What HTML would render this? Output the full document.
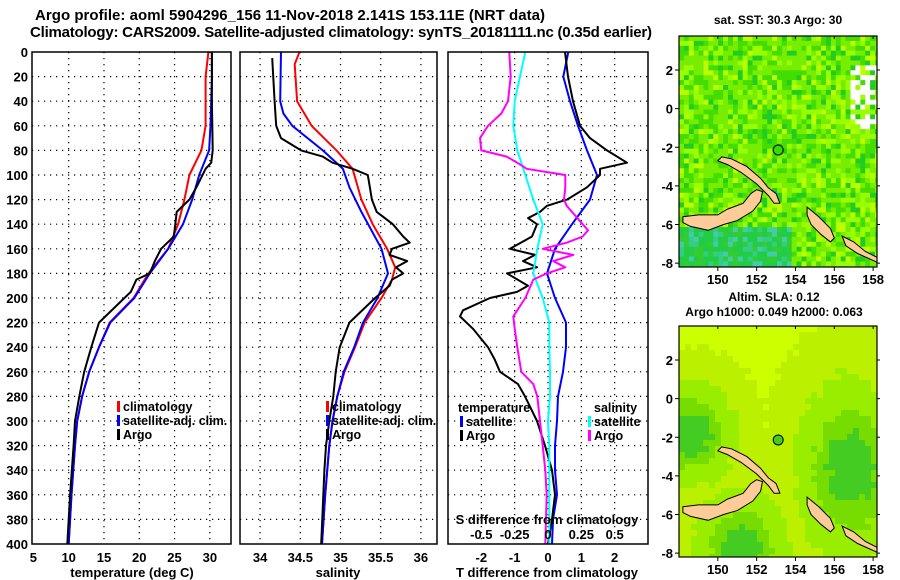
<!DOCTYPE html>
<html><head><meta charset="utf-8"><style>
html,body{margin:0;padding:0;background:#fff;}
svg{display:block;font-family:"Liberation Sans",Arial,sans-serif;font-weight:bold;}
</style></head><body>
<svg id="fig" width="900" height="580" viewBox="0 0 900 580" xmlns="http://www.w3.org/2000/svg">
<text x="290" y="20" font-size="15" text-anchor="middle" textLength="510">Argo profile: aoml 5904296_156 11-Nov-2018 2.141S 153.11E (NRT data)</text>
<text x="341" y="37" font-size="15" text-anchor="middle" textLength="622">Climatology: CARS2009. Satellite-adjusted climatology: synTS_20181111.nc (0.35d earlier)</text>
<text x="778" y="24" font-size="12" text-anchor="middle">sat. SST: 30.3 Argo: 30</text>
<text x="774" y="301" font-size="12" text-anchor="middle">Altim. SLA: 0.12</text>
<text x="774" y="316" font-size="12" text-anchor="middle">Argo h1000: 0.049 h2000: 0.063</text>
<text transform="translate(893,460) rotate(-90)" font-size="12" font-weight="normal" text-anchor="middle">©IMOS 20-Dec-2018 06:29:23</text>
<g id="g"></g>
</svg>
<script>
// ---------- data ----------
const depthTicks = [0,20,40,60,80,100,120,140,160,180,200,220,240,260,280,300,320,340,360,380,400];
const tempTicks = [5,10,15,20,25,30];
const salTicks = [34,34.5,35,35.5,36];
const salTickLabels = ["34","34.5","35","35.5","36"];
const tdiffTicks = [-2,-1,0,1,2];
const sdiffTicks = [-0.5,-0.25,0,0.25,0.5];
const sdiffTickLabels = ["-0.5","-0.25","0","0.25","0.5"];

const climDepth = [0,20,40,60,80,100,120,140,160,180,200,220,240,260,280,300,320,360,400];
const tempClim = [29.8,29.4,29.4,29.4,28.8,27.1,26.4,25.5,24.1,21.3,19.2,15.8,14.3,12.9,11.9,11.2,10.9,10.4,10.0];
const tempSat = [30.3,30.3,30.2,30.1,29.9,28.5,27.5,26.2,24.1,21.5,19.3,15.9,14.3,12.9,11.9,11.2,10.9,10.4,10.0];

const argoTDepth = [0,40,80,90,95,110,120,130,140,150,160,170,180,185,195,200,220,240,260,280,300,320,360,400];
const tempArgo = [30.3,30.3,30.4,30.2,29.4,28.1,27.1,25.3,25.1,24.9,23.1,22.2,21.5,19.6,18.8,17.9,14.3,13.2,12.2,11.5,10.9,10.7,10.2,9.8];

const salDepth = [0,10,40,60,80,95,120,140,160,175,185,200,220,240,260,280,300,320,360,400];
const salClim = [34.49,34.43,34.46,34.64,34.95,35.15,35.26,35.40,35.58,35.68,35.64,35.51,35.30,35.18,35.05,34.96,34.90,34.86,34.81,34.77];
const salSatDepth = [0,40,50,60,80,95,110,130,160,180,200,220,240,260,280,300,320,360,400];
const salSat = [34.26,34.25,34.29,34.40,34.78,35.03,35.11,35.26,35.51,35.59,35.46,35.28,35.17,35.04,34.96,34.90,34.86,34.81,34.77];
const salArgoDepth = [5,40,60,70,80,85,90,95,100,120,130,140,150,155,160,165,170,175,180,185,190,200,220,240,260,280,300,320,340,400];
const salArgo = [34.15,34.18,34.20,34.26,34.51,34.78,34.90,35.15,35.34,35.39,35.45,35.65,35.78,35.86,35.64,35.61,35.83,35.69,35.78,35.64,35.61,35.43,35.11,34.99,34.94,34.91,34.86,34.82,34.80,34.76];

const tdSatDepth = [0,20,40,60,80,100,120,140,160,180,200,220,240,260,280,300,320,340,360,380,400];
const tdSat = [0.61,0.46,0.66,0.90,1.17,1.47,1.26,0.72,0.21,-0.03,0.21,0.54,0.54,0.45,0.30,0.27,0.21,0.21,0.27,0.15,0.12];
const tdArgoDepth = [0,20,40,60,70,80,90,95,100,110,120,125,130,135,140,150,160,165,170,175,180,190,195,200,210,215,225,240,250,260,270,280,300,320,340,360,380,400];
const tdArgo = [0.51,0.60,0.75,0.96,1.26,1.77,2.37,1.56,1.56,1.17,0.57,-0.03,-0.24,-0.60,-0.33,-0.48,-1.14,-0.39,-0.75,-0.33,-1.23,-0.60,-0.93,-1.74,-2.55,-2.64,-2.25,-1.80,-1.60,-1.44,-0.90,-0.69,-0.33,-0.09,0.12,0.21,0.12,0.00];
const sdSatDepth = [0,20,40,60,80,100,120,140,160,180,200,220,240,260,280,300,320,360,400];
const sdSat = [-0.17,-0.21,-0.25,-0.26,-0.23,-0.17,-0.11,-0.04,-0.08,-0.11,-0.04,0.01,0.01,0.015,0.015,0.0,0.01,0.01,0.01];
const sdArgoDepth = [0,20,40,50,60,70,80,85,90,95,100,110,120,125,130,140,145,150,155,160,165,170,175,180,185,200,215,225,240,260,270,280,300,320,340,360,400];
const sdArgo = [-0.29,-0.28,-0.30,-0.35,-0.45,-0.51,-0.50,-0.31,-0.23,-0.16,0.13,0.13,0.12,0.14,0.18,0.26,0.30,0.26,0.14,-0.04,0.19,0.04,0.13,-0.01,-0.11,-0.17,-0.26,-0.25,-0.23,-0.20,-0.11,-0.08,-0.06,-0.04,-0.02,-0.01,-0.02];

// ---------- drawing ----------
const NS="http://www.w3.org/2000/svg";
const G=document.getElementById('g');
function mk(tag,attrs,parent){const e=document.createElementNS(NS,tag);for(const k in attrs)e.setAttribute(k,attrs[k]);(parent||G).appendChild(e);return e;}
function txt(x,y,s,size,anchor,parent){const t=mk('text',{x:x,y:y,'font-size':size,'text-anchor':anchor||'middle'},parent);t.textContent=s;return t;}

const TOP=52,BOT=544;
const yD=d=>TOP+(BOT-TOP)*d/400;
const panels=[
 {x0:32,x1:231,v0:4.8,v1:33.0},
 {x0:240,x1:437,v0:33.75,v1:36.2},
 {x0:448,x1:648,v0:-3,v1:3}
];
function sx(p,v){return p.x0+(v-p.v0)/(p.v1-p.v0)*(p.x1-p.x0);}

function frame(p,name,gridVals){
  const g=mk('g',{});
  
  
  depthTicks.forEach((d,i)=>{ if(i>0&&i<depthTicks.length-1){
    const l=mk('line',{x1:p.x0,x2:p.x1,y1:yD(d),y2:yD(d),stroke:'#000','stroke-width':1.2,'stroke-dasharray':'1.2,4.8'},g);
    
    
  }});
  gridVals.forEach(v=>{
    const l=mk('line',{x1:sx(p,v),x2:sx(p,v),y1:TOP,y2:BOT,stroke:'#000','stroke-width':1.2,'stroke-dasharray':'1.2,4.8'},g);
    
    
  });
  return g;
}
function line(p,vals,depths,color,name,scale){
  const pts=vals.map((v,i)=>sx(p,v*(scale||1)).toFixed(1)+','+yD(depths[i]).toFixed(1)).join(' ');
  const e=mk('polyline',{points:pts,fill:'none',stroke:color,'stroke-width':2,'stroke-linejoin':'round'});
  
  
}
function box(p,name){
  const r=mk('rect',{x:p.x0,y:TOP,width:p.x1-p.x0,height:BOT-TOP,fill:'none',stroke:'#000','stroke-width':1.5});
  
  
}
function legendItem(x,y,color,label,name){
  const g=mk('g',{});
  
  
  mk('rect',{x:x,y:y-10,width:3,height:11,fill:color},g);
  txt(x+6,y,label,12.5,'start',g);
}

const p1=panels[0],p2=panels[1],p3=panels[2];
frame(p1,'temperature-grid',tempTicks.slice(1));
line(p1,tempClim,climDepth,'#f00','temperature-climatology-line');
line(p1,tempSat,climDepth,'#00f','temperature-satellite-line');
line(p1,tempArgo,argoTDepth,'#000','temperature-argo-line');
box(p1,'temperature-panel');
depthTicks.forEach(d=>{const t=txt(28,yD(d)+5,String(d),13,'end');});
tempTicks.forEach(v=>{const t=txt(sx(p1,v),562,String(v),13);});
txt(132,577,'temperature (deg C)',13);
legendItem(117,411,'#f00','climatology','legend-climatology');
legendItem(117,425,'#00f','satellite-adj. clim.','legend-satellite');
legendItem(117,439,'#000','Argo','legend-argo');

frame(p2,'salinity-grid',salTicks);
line(p2,salClim,salDepth,'#f00','salinity-climatology-line');
line(p2,salSat,salSatDepth,'#00f','salinity-satellite-line');
line(p2,salArgo,salArgoDepth,'#000','salinity-argo-line');
box(p2,'salinity-panel');
salTicks.forEach((v,i)=>{const t=txt(sx(p2,v),562,salTickLabels[i],13);});
txt(338,577,'salinity',13);
legendItem(326,411,'#f00','climatology','legend-sal-climatology');
legendItem(326,425,'#00f','satellite-adj. clim.','legend-sal-satellite');
legendItem(326,439,'#000','Argo','legend-sal-argo');

frame(p3,'difference-grid',tdiffTicks);
line(p3,tdSat,tdSatDepth,'#00f','tdiff-satellite-line');
line(p3,tdArgo,tdArgoDepth,'#000','tdiff-argo-line');
line(p3,sdSat,sdSatDepth,'#0ff','sdiff-satellite-line',4);
line(p3,sdArgo,sdArgoDepth,'#f0f','sdiff-argo-line',4);
box(p3,'difference-panel');
tdiffTicks.forEach(v=>{const t=txt(sx(p3,v),562,String(v),13);});
sdiffTicks.forEach((v,i)=>{const t=txt(sx(p3,v*4),539,sdiffTickLabels[i],13);});
txt(547,524,'S difference from climatology',13);
txt(547,577,'T difference from climatology',13);
txt(458,412,'temperature',12.5,'start');
txt(594,412,'salinity',12.5,'start');
legendItem(460,426,'#00f','satellite','legend-tdiff-satellite');
legendItem(460,440,'#000','Argo','legend-tdiff-argo');
legendItem(588,426,'#0ff','satellite','legend-sdiff-satellite');
legendItem(588,440,'#f0f','Argo','legend-sdiff-argo');

// ---------- maps ----------
const lonTicks=[150,152,154,156,158];
const latTicks=[2,0,-2,-4,-6,-8];
const newBritain=[[148.2,-5.6],[149,-5.5],[150,-5.5],[150.5,-5.2],[151.3,-4.9],[151.7,-4.4],[152,-4.2],[152.3,-4.3],[152.2,-4.8],[151.8,-5.3],[151,-5.8],[150.3,-6.0],[149.5,-6.3],[148.6,-6.1],[148.2,-5.9]];
const newIreland=[[150.2,-2.5],[150.7,-2.6],[151.5,-3.0],[152.2,-3.6],[152.6,-4.1],[153,-4.4],[153.2,-4.9],[152.9,-4.9],[152.6,-4.5],[152,-3.9],[151.2,-3.3],[150.5,-2.9],[150,-2.7]];
const bougainville=[[154.6,-5.1],[155.2,-5.6],[155.8,-6.2],[156,-6.7],[155.8,-6.9],[155.3,-6.5],[154.8,-6.0],[154.6,-5.5]];
const choiseul=[[156.4,-6.6],[157,-6.9],[157.6,-7.4],[158.2,-7.7],[158.2,-7.95],[157.2,-7.5],[156.6,-7.1]];
const argoPos=[153.11,-2.141];

function hash(i,j){let h=(i*374761393+j*668265263)>>>0;h=((h^(h>>>13))*1274126177)>>>0;return (h>>>0)/4294967296;}
function drawMap(top,name,kind){
  const m={x0:679,x1:877,y0:top,y1:top+231,lon0:148,lon1:158.2,lat0:3.76,lat1:-8.2};
  const X=l=>m.x0+(l-m.lon0)/(m.lon1-m.lon0)*(m.x1-m.x0);
  const Y=l=>m.y0+(l-m.lat0)/(m.lat1-m.lat0)*(m.y1-m.y0);
  const g=mk('g',{});
  
  
  const cs=kind==='sst'?4.9:6;
  const nx=Math.ceil((m.x1-m.x0)/cs),ny=Math.ceil((m.y1-m.y0)/cs);
  for(let j=0;j<ny;j++)for(let i=0;i<nx;i++){
    let c;const r=hash(i,j);
    if(kind==='sst'){
      const south=j>ny*0.8&&i<nx*0.55;
      if(south) c=r<0.45?'#22cc44':r<0.65?'#33cc88':r<0.85?'#33cc33':'#44ccaa';
      else c=r<0.35?'#77ee00':r<0.6?'#44dd00':r<0.8?'#99ff00':r<0.92?'#22cc22':'#bbff00';
      if(i>nx*0.85&&j>ny*0.12&&j<ny*0.38&&r<0.5) c='#ffffff';
    }else{
      const fx=i/nx,fy=j/ny;
      const d1=Math.hypot(fx-0.85,(fy-0.6)*0.7),d2=Math.hypot(fx-0.05,fy-0.45),d3=Math.hypot(fx-0.3,fy-0.95);
      const v=Math.min(d1/0.22,d2/0.18,d3/0.2)+r*0.2;
      c=v<0.6?'#44cc22':v<0.9?'#77dd00':v<1.4?'#99ee00':v<2.2?'#bbf000':'#ccff00';
    }
    mk('rect',{x:m.x0+i*cs,y:m.y0+j*cs,width:cs+0.5,height:cs+0.5,fill:c},g);
  }
  const cover=mk('rect',{x:m.x1,y:m.y0,width:20,height:m.y1-m.y0+1,fill:'#fff'},g);
  mk('rect',{x:m.x0,y:m.y1,width:m.x1-m.x0+20,height:20,fill:'#fff'},g);
  [newBritain,newIreland,bougainville,choiseul].forEach((poly,k)=>{
    const p=mk('polygon',{points:poly.map(q=>X(q[0]).toFixed(1)+','+Y(q[1]).toFixed(1)).join(' '),fill:'#ffcc99',stroke:'#000','stroke-width':1},g);
    
    
  });
  const c=mk('circle',{cx:X(argoPos[0]),cy:Y(argoPos[1]),r:5,fill:kind==='sst'?'#33dd00':'#44cc22',stroke:'#000','stroke-width':1},g);
  
  
  mk('rect',{x:m.x0,y:m.y0,width:m.x1-m.x0,height:m.y1-m.y0,fill:'none',stroke:'#000','stroke-width':1.2},g);
  lonTicks.forEach(l=>{
    mk('line',{x1:X(l),x2:X(l),y1:m.y1,y2:m.y1+4,stroke:'#000'},g);
    mk('line',{x1:X(l),x2:X(l),y1:m.y0,y2:m.y0+3,stroke:'#000'},g);
    txt(X(l),m.y1+17,String(l),13,'middle',g);
  });
  latTicks.forEach(l=>{
    mk('line',{x1:m.x0-4,x2:m.x0,y1:Y(l),y2:Y(l),stroke:'#000'},g);
    mk('line',{x1:m.x1,x2:m.x1+3,y1:Y(l),y2:Y(l),stroke:'#000'},g);
    txt(m.x0-6,Y(l)+5,String(l),13,'end',g);
  });
}
drawMap(36,'sst-map','sst');
drawMap(326,'sla-map','sla');
</script>
</body></html>
